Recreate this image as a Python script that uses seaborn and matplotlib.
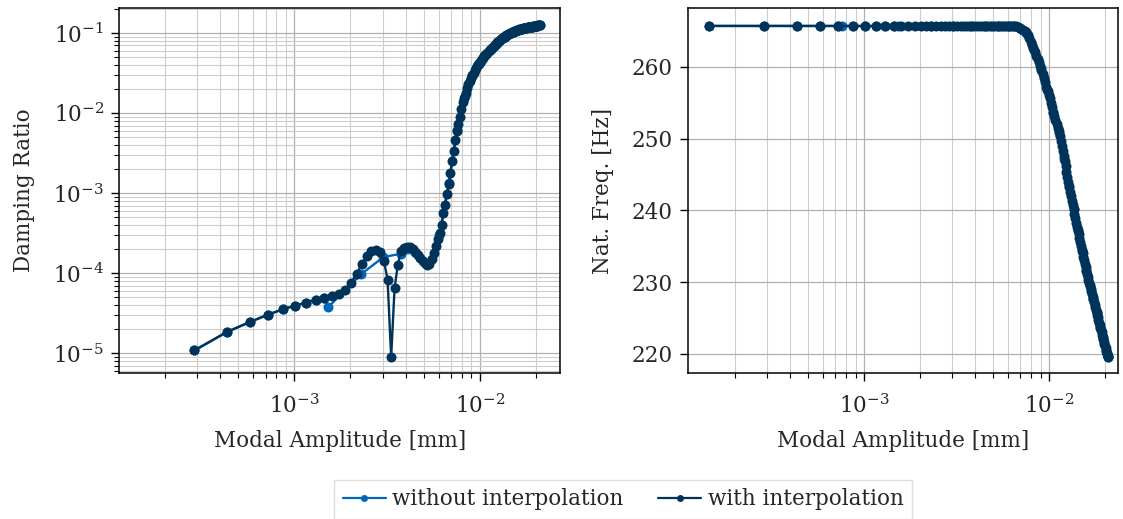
import numpy as np
import pandas as pd
import matplotlib
matplotlib.use("Agg")
import matplotlib.pyplot as plt
import seaborn as sns
from matplotlib.lines import Line2D
from matplotlib.ticker import LogLocator, NullFormatter, NullLocator

# ---------------- data (amplitudes in micrometres, converted to mm) ----------------
amp_interp_um = [
    0.145, 0.289, 0.434, 0.578, 0.723, 0.867, 1.012, 1.156, 1.301, 1.445,
    1.590, 1.734, 1.879, 2.023, 2.168, 2.312, 2.457, 2.601, 2.746, 2.890,
    3.035, 3.179, 3.324, 3.468, 3.613, 3.757, 3.902, 4.046, 4.191, 4.335,
    4.480, 4.624, 4.769, 4.913, 5.058, 5.202, 5.347, 5.491, 5.636, 5.780,
    5.925, 6.069, 6.214, 6.358, 6.503, 6.647, 6.792, 6.936, 7.081, 7.225,
    7.370, 7.514, 7.659, 7.803, 7.948, 8.092, 8.237, 8.381, 8.526, 8.670,
    8.815, 8.959, 9.104, 9.248, 9.393, 9.537, 9.682, 9.826, 9.971, 10.115,
    10.260, 10.404, 10.549, 10.693, 10.838, 10.982, 11.127, 11.271, 11.416, 11.560,
    11.705, 11.849, 11.994, 12.138, 12.283, 12.427, 12.572, 12.716, 12.861, 13.005,
    13.150, 13.294, 13.439, 13.583, 13.728, 13.872, 14.017, 14.161, 14.306, 14.450,
    14.595, 14.739, 14.884, 15.028, 15.173, 15.317, 15.462, 15.606, 15.751, 15.895,
    16.040, 16.184, 16.329, 16.473, 16.618, 16.762, 16.907, 17.051, 17.196, 17.340,
    17.485, 17.629, 17.774, 17.918, 18.063, 18.207, 18.352, 18.496, 18.641, 18.785,
    18.930, 19.074, 19.219, 19.363, 19.508, 19.652, 19.797, 19.941, 20.086, 20.230,
    20.375, 20.519, 20.664, 20.808, 20.953,
]
damp_interp = [
    np.nan, 1.09e-5, 1.86e-5, 2.48e-5, 3.06e-5, 3.56e-5, 3.96e-5, 4.32e-5, 4.71e-5, 4.94e-5,
    5.24e-5, 5.60e-5, 6.28e-5, 7.67e-5, 9.85e-5, 1.31e-4, 1.65e-4, 1.88e-4, 1.98e-4, 1.83e-4,
    1.44e-4, 8.36e-5, 9.0e-6, 6.59e-5, 1.29e-4, 1.88e-4, 2.06e-4, 2.16e-4, 2.12e-4, 2.00e-4,
    1.87e-4, 1.71e-4, 1.57e-4, 1.44e-4, 1.34e-4, 1.29e-4, 1.32e-4, 1.50e-4, 1.79e-4, 2.22e-4,
    2.67e-4, 3.22e-4, 4.05e-4, 5.66e-4, 7.19e-4, 9.86e-4, 1.31e-3, 1.77e-3, 2.54e-3, 3.39e-3,
    4.65e-3, 5.93e-3, 7.35e-3, 8.99e-3, 1.13e-2, 1.36e-2, 1.56e-2, 1.79e-2, 2.03e-2, 2.28e-2,
    2.52e-2, 2.76e-2, 2.99e-2, 3.21e-2, 3.45e-2, 3.68e-2, 3.89e-2, 4.09e-2, 4.30e-2, 4.50e-2,
    4.70e-2, 4.90e-2, 5.10e-2, 5.29e-2, 5.50e-2, 5.70e-2, 5.89e-2, 6.07e-2, 6.26e-2, 6.44e-2,
    6.64e-2, 6.84e-2, 7.03e-2, 7.23e-2, 7.42e-2, 7.62e-2, 7.81e-2, 8.01e-2, 8.20e-2, 8.39e-2,
    8.55e-2, 8.71e-2, 8.87e-2, 9.03e-2, 9.18e-2, 9.32e-2, 9.46e-2, 9.59e-2, 9.73e-2, 9.86e-2,
    9.97e-2, 1.008e-1, 1.019e-1, 1.030e-1, 1.040e-1, 1.050e-1, 1.060e-1, 1.069e-1, 1.078e-1, 1.087e-1,
    1.095e-1, 1.103e-1, 1.110e-1, 1.117e-1, 1.123e-1, 1.128e-1, 1.133e-1, 1.138e-1, 1.143e-1, 1.148e-1,
    1.153e-1, 1.158e-1, 1.163e-1, 1.168e-1, 1.172e-1, 1.176e-1, 1.180e-1, 1.184e-1, 1.188e-1, 1.192e-1,
    1.196e-1, 1.200e-1, 1.204e-1, 1.208e-1, 1.212e-1, 1.216e-1, 1.220e-1, 1.224e-1, 1.228e-1, 1.232e-1,
    1.236e-1, 1.240e-1, 1.244e-1, 1.248e-1, 1.252e-1,
]
freq_interp = [
    265.7, 265.7, 265.7, 265.7, 265.7, 265.7, 265.7, 265.7, 265.7, 265.7,
    265.7, 265.7, 265.7, 265.7, 265.7, 265.7, 265.7, 265.7, 265.7, 265.7,
    265.7, 265.7, 265.7, 265.7, 265.7, 265.7, 265.7, 265.7, 265.7, 265.7,
    265.7, 265.7, 265.7, 265.7, 265.7, 265.7, 265.7, 265.7, 265.7, 265.7,
    265.7, 265.7, 265.7, 265.69, 265.67, 265.63, 265.56, 265.45, 265.32, 265.20,
    265.03, 264.81, 264.50, 264.04, 263.52, 263.08, 262.60, 262.12, 261.57, 261.07,
    260.63, 260.15, 259.61, 259.03, 258.40, 257.84, 257.26, 256.70, 256.13, 255.61,
    254.97, 254.35, 253.69, 253.16, 252.60, 252.07, 251.53, 251.00, 250.36, 249.65,
    248.96, 248.31, 247.62, 246.87, 246.17, 245.34, 244.64, 243.94, 243.27, 242.62,
    242.00, 241.37, 240.74, 240.18, 239.55, 238.93, 238.23, 237.74, 237.21, 236.70,
    236.14, 235.54, 235.03, 234.54, 234.05, 233.57, 233.08, 232.59, 232.10, 231.62,
    231.20, 230.78, 230.25, 229.88, 229.53, 229.11, 228.76, 228.34, 227.99, 227.65,
    227.30, 226.88, 226.53, 226.18, 225.84, 225.49, 225.14, 224.79, 224.37, 224.03,
    223.68, 223.40, 223.05, 222.70, 222.35, 222.01, 221.73, 221.38, 221.10, 220.82,
    220.47, 220.19, 219.92, 219.71, 219.53,
]

amp_raw_um = [
    0.145, 0.289, 0.434, 0.578, 0.723, 0.760, 0.867, 1.012, 1.156, 1.301,
    1.445, 1.520, 2.300, 3.020, 3.770, 4.530, 5.280, 6.040, 6.790, 7.550,
    8.300, 9.060, 9.810, 10.570, 11.320, 12.080, 12.830, 13.590, 14.340, 15.100,
    15.850, 16.610, 17.360, 18.120, 18.870, 19.630, 20.380, 20.953,
]
damp_raw = [
    np.nan, 1.09e-5, 1.86e-5, 2.48e-5, 3.06e-5, np.nan, 3.56e-5, 3.96e-5, 4.32e-5, 4.71e-5,
    4.94e-5, 3.78e-5, 9.84e-5, 1.60e-4, 1.76e-4, 1.82e-4, 1.30e-4, 3.05e-4, 1.35e-3, 6.2e-3,
    1.65e-2, 2.92e-2, 4.07e-2, 5.12e-2, 6.13e-2, 7.15e-2, 8.16e-2, 9.03e-2, 9.76e-2, 1.035e-1,
    1.084e-1, 1.122e-1, 1.149e-1, 1.174e-1, 1.194e-1, 1.215e-1, 1.236e-1, 1.252e-1,
]
freq_raw = [
    265.7, 265.7, 265.7, 265.7, 265.7, 265.7, 265.7, 265.7, 265.7, 265.7,
    265.7, 265.7, 265.7, 265.7, 265.7, 265.7, 265.7, 265.7, 265.56, 264.75,
    262.4, 259.8, 256.75, 253.6, 250.8, 247.2, 243.4, 240.18, 237.1, 234.3,
    231.76, 229.56, 227.6, 225.7, 223.8, 222.08, 220.47, 219.53,
]

series_labels = ["without interpolation", "with interpolation"]
x_ticks = [1e-3, 1e-2]
y_ticks_damp = [1e-5, 1e-4, 1e-3, 1e-2, 1e-1]
y_ticks_freq = [220, 230, 240, 250, 260]

# ---------------- style ----------------
sns.set_theme(style="white")
plt.rcParams["font.family"] = ["DejaVu Serif"]
plt.rcParams["mathtext.fontset"] = "dejavuserif"
FS = 15.5

C_RAW = "#0065BD"
C_INT = "#003359"

df_int = pd.DataFrame({"amp": np.array(amp_interp_um) / 1000.0,
                       "damp": damp_interp, "freq": freq_interp})
df_raw = pd.DataFrame({"amp": np.array(amp_raw_um) / 1000.0,
                       "damp": damp_raw, "freq": freq_raw})

fig = plt.figure(figsize=(11.23, 5.19), dpi=100)
ax1 = fig.add_axes([119.3 / 1123, (519 - 373.3) / 519, 440.7 / 1123, 365.3 / 519])
ax2 = fig.add_axes([688.3 / 1123, (519 - 373.3) / 519, 429.7 / 1123, 365.3 / 519])

line_kw = dict(marker="o", markersize=7.2, markeredgewidth=0, linewidth=1.7,
               estimator=None, sort=False, legend=False)

for ax, col in ((ax1, "damp"), (ax2, "freq")):
    d_raw = df_raw.dropna(subset=[col])
    d_int = df_int.dropna(subset=[col])
    sns.lineplot(data=d_raw, x="amp", y=col, ax=ax, color=C_RAW, zorder=3, **line_kw)
    sns.lineplot(data=d_int, x="amp", y=col, ax=ax, color=C_INT, zorder=4, **line_kw)
    ax.set_xscale("log")
    ax.xaxis.set_major_locator(LogLocator(base=10))
    ax.xaxis.set_minor_locator(LogLocator(base=10, subs=np.arange(2, 10)))
    ax.xaxis.set_minor_formatter(NullFormatter())
    ax.set_xticks(x_ticks)
    ax.set_xlabel("Modal Amplitude [mm]", fontsize=FS, labelpad=9)
    for s in ax.spines.values():
        s.set_color("black")
        s.set_linewidth(1.1)
    ax.tick_params(axis="both", which="major", direction="out", length=6, width=1,
                   color="black", labelsize=FS, bottom=True, left=True, top=False, right=False)
    ax.tick_params(axis="both", which="minor", direction="out", length=3.5, width=0.8,
                   color="black", bottom=True, left=True, top=False, right=False)
    ax.tick_params(axis="x", which="major", pad=9)
    ax.tick_params(axis="y", which="major", pad=5)
    ax.grid(True, which="major", color="#b0b0b0", linewidth=0.9)
    ax.set_axisbelow(True)

# left axis: damping ratio
ax1.set_yscale("log")
ax1.yaxis.set_minor_locator(LogLocator(base=10, subs=np.arange(2, 10)))
ax1.yaxis.set_minor_formatter(NullFormatter())
ax1.set_yticks(y_ticks_damp)
ax1.set_xlim(1.14e-4, 2.7e-2)
ax1.set_ylim(5.66e-6, 0.205)
ax1.grid(True, which="minor", axis="both", color="#cccccc", linewidth=0.8)
ax1.set_ylabel("Damping Ratio", fontsize=FS, labelpad=13)

# right axis: natural frequency
ax2.set_yticks(y_ticks_freq)
ax2.yaxis.set_minor_locator(NullLocator())
ax2.set_xlim(1.122e-4, 2.36e-2)
ax2.set_ylim(217.3, 268.2)
ax2.grid(True, which="minor", axis="x", color="#cccccc", linewidth=0.8)
ax2.set_ylabel("Nat. Freq. [Hz]", fontsize=FS, labelpad=13)

handles = [Line2D([], [], color=C_RAW, marker="o", markersize=5, markeredgewidth=0, lw=1.6),
           Line2D([], [], color=C_INT, marker="o", markersize=5, markeredgewidth=0, lw=1.6)]
leg = fig.legend(handles, series_labels, loc="upper center", bbox_to_anchor=(0.555, 0.076),
                 ncol=2, frameon=True, fancybox=False, fontsize=FS, borderaxespad=0,
                 handlelength=2.0, handletextpad=0.3, columnspacing=1.6, borderpad=0.4)
leg.get_frame().set_edgecolor("#d6d6d6")
leg.get_frame().set_linewidth(1.0)

fig.savefig("out.png", dpi=100)
